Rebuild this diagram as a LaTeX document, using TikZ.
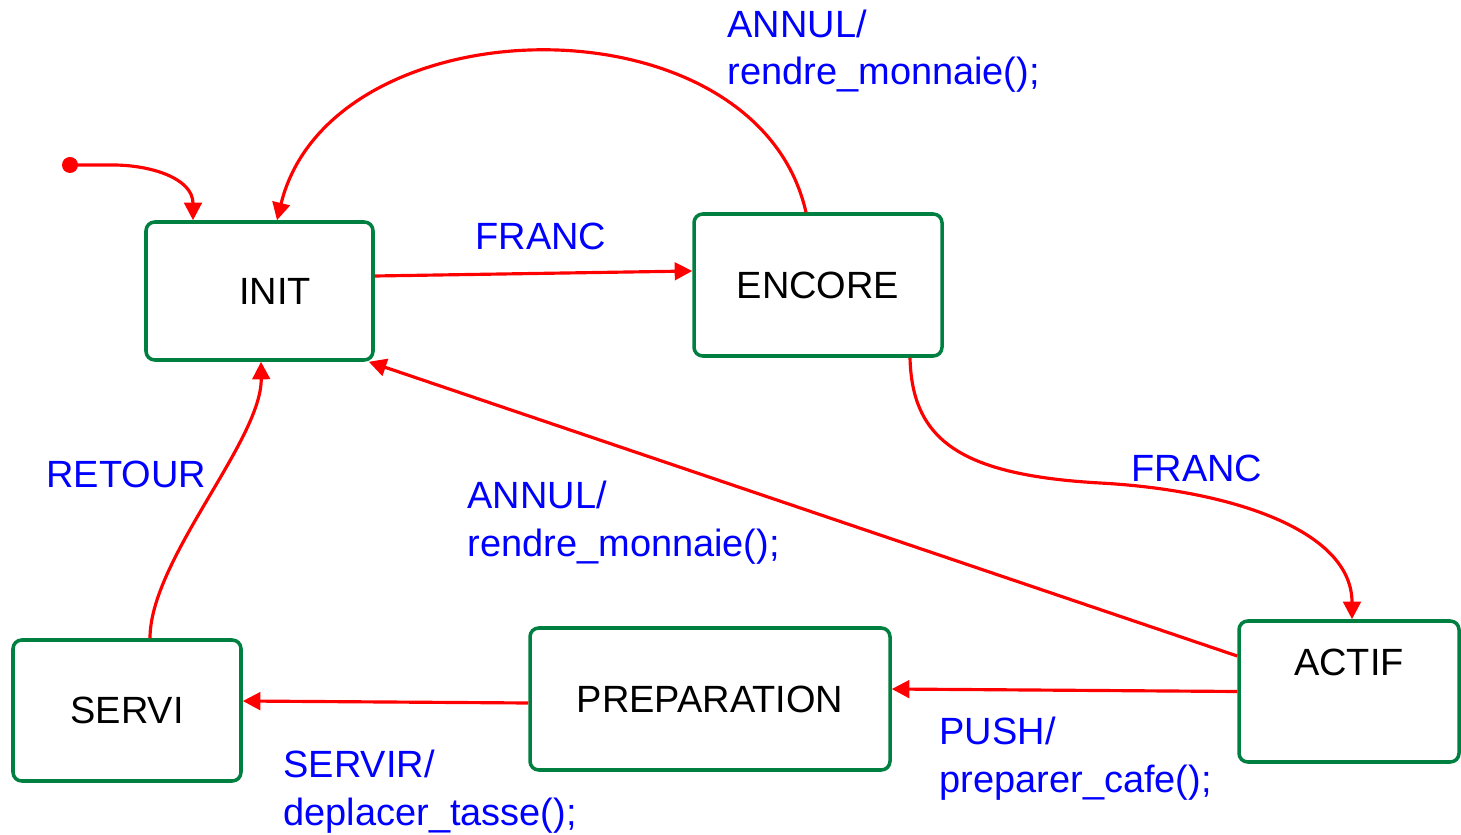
\documentclass[tikz,border=0pt]{standalone}
\usepackage{fontspec}
\setmainfont{Liberation Sans}
\usetikzlibrary{positioning, arrows.meta}
\definecolor{vertetat}{RGB}{0,128,64}
\definecolor{rougetrans}{RGB}{255,0,0}
\definecolor{bleuetiq}{RGB}{0,0,255}
\tikzset{
>={Triangle[length=5pt, width=5pt]}, % pointe des fleches
etat/.style={draw=vertetat, line width=1pt, rounded corners=2.5pt, fill=white}, % cadre des etats
trans/.style={->, draw=rougetrans, line width=0.9pt}, % les transitions
etiq/.style={text=bleuetiq, align=left, anchor=base west, inner sep=0pt}, % texte des transitions (base = derniere ligne)
}

\begin{document}
\begin{tikzpicture}[font=\fontsize{10.8}{13.4}\selectfont]
\useasboundingbox (0,0) rectangle (14.61,8.34);

\node[etat, minimum width=2.27cm, minimum height=1.38cm, label={[xshift=1.55mm]center:INIT}] at (2.595, 5.43) (init) {};
\node[etat, minimum width=2.48cm, minimum height=1.42cm] at (8.18, 5.49) (encore) {ENCORE};
\node[etat, minimum width=2.20cm, minimum height=1.41cm, label={[yshift=2.95mm]center:ACTIF}] at (13.49, 1.425) (actif) {};
\node[etat, minimum width=3.60cm, minimum height=1.42cm] at (7.10, 1.35) (preparation) {PREPARATION};
\node[etat, minimum width=2.28cm, minimum height=1.41cm] at (1.27, 1.235) (servi) {SERVI};

\coordinate (depart) at (0.70, 6.69);
\fill[rougetrans] (depart) circle (0.08);

\draw[trans] (depart) -- (1.13, 6.69) .. controls (1.50, 6.69) and (1.93, 6.56) .. ([xshift=-6.65mm]init.north);
\draw[trans] ([yshift=1.5mm]init.east) -- ([yshift=1.4mm]encore.west)
  node[etiq] (franc-a) at (4.74, 5.84) {FRANC};
\draw[trans] ([xshift=-1.2mm]encore.north) .. controls (7.56, 8.41) and (3.31, 8.33) .. ([xshift=1.75mm]init.north)
  node[etiq] (annul-a) at (7.26, 7.49) {ANNUL/\\rendre\_monnaie();};
\draw[trans] ([xshift=9.2mm]encore.south) .. controls (9.12, 3.94) and (9.60, 3.59) .. (11.00, 3.51)
  .. controls (12.30, 3.44) and (13.52, 3.04) .. ([xshift=0.3mm]actif.north)
  node[etiq] (franc-b) at (11.30, 3.53) {FRANC};
\draw[trans] ([yshift=3.55mm]actif.west) -- ([xshift=-0.6mm]init.south east)
  node[etiq] (annul-b) at (4.66, 2.78) {ANNUL/\\rendre\_monnaie();};
\draw[trans] (actif.west) -- ([yshift=1mm]preparation.east)
  node[etiq] (push) at (9.38, 0.42) {PUSH/\\preparer\_cafe();};
\draw[trans] ([yshift=-0.4mm]preparation.west) -- ([yshift=0.95mm]servi.east)
  node[etiq] (servir) at (2.82, 0.09) {SERVIR/\\deplacer\_tasse();};
\draw[trans] ([xshift=2.3mm]servi.north) .. controls (1.50, 2.74) and (2.62, 3.94) .. ([xshift=0.15mm]init.south)
  node[etiq] (retour) at (0.45, 3.46) {RETOUR};

\end{tikzpicture}
\end{document}
